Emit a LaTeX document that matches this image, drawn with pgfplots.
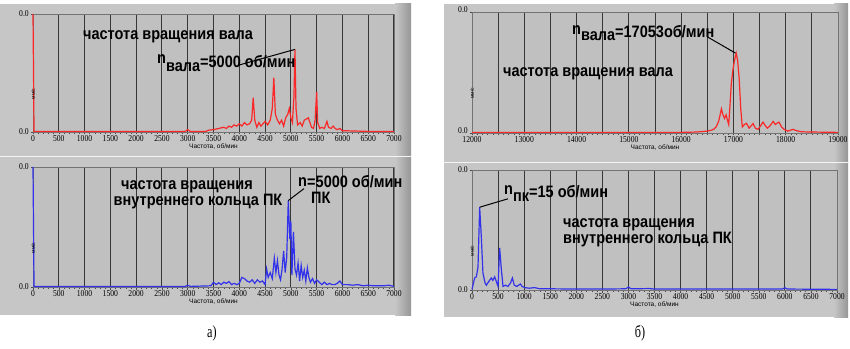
\documentclass[border=0pt]{standalone}
\usepackage{pgfplots}
\pgfplotsset{compat=1.18}
\usepackage{fontspec}
\setmainfont{Liberation Sans}
\newfontfamily\annot[FakeStretch=0.88]{Liberation Sans}
\newfontfamily\tickf[FakeStretch=0.85]{Liberation Serif}
\newfontfamily\capf[FakeStretch=0.72]{Liberation Serif}
\definecolor{panel}{RGB}{198,198,198}
\definecolor{paneldark}{RGB}{150,150,150}
\definecolor{plotbg}{RGB}{192,192,192}
\definecolor{gridc}{RGB}{55,55,55}
\definecolor{lvred}{RGB}{250,40,40}
\definecolor{lvblue}{RGB}{50,50,235}
\pgfplotsset{lv/.style={
  scale only axis, anchor=south west, clip=false,
  axis background/.style={fill=plotbg},
  ymin=0, ymax=1, ytick={0,1}, yticklabels={0.0,0.0},
  scaled x ticks=false, scaled y ticks=false,
  xmajorgrids, major grid style={gridc, line width=1pt},
  axis line style={black!55, line width=0.6pt},
  tick align=outside, major tick length=2.5pt, minor tick length=1.6pt,
  tick style={black!70, line width=0.5pt},
  minor x tick num=4, tick pos=left,
  ticklabel style={font=\tickf\fontsize{9}{9}\selectfont},
  xticklabel style={inner sep=1pt},
  yticklabel style={inner sep=1.5pt},
  xlabel={Частота, об/мин},
  xlabel style={font=\fontsize{6.5}{6.5}\selectfont, at={(axis description cs:0.5,0)}, anchor=center, yshift=-15pt},
  ylabel={мм/с},
  ylabel style={font=\fontsize{5}{5}\selectfont, at={(axis description cs:0,0.5)}, anchor=center, xshift=-21pt},
}}
\begin{document}
\begin{tikzpicture}
\path[use as bounding box] (0pt,0pt) rectangle (850pt,348pt);
% panels
\fill[panel] (0pt,33pt) rectangle (411pt,344pt);
\shade[left color=panel, right color=paneldark] (395pt,33pt) rectangle (411pt,344pt);
\draw[white!80!panel, line width=1pt] (0pt,191pt) -- (411pt,191pt);
\fill[panel] (444pt,31pt) rectangle (848pt,344pt);
\shade[left color=panel, right color=paneldark] (834pt,31pt) rectangle (848pt,344pt);
\draw[white!80!panel, line width=1pt] (444pt,185pt) -- (848pt,185pt);

% top-left
\begin{axis}[lv, at={(33pt,216pt)}, width=361pt, height=118pt,
  xmin=0, xmax=7000, xtick={0,500,...,7000},
  xticklabels={0,500,1000,1500,2000,2500,3000,3500,4000,4500,5000,5500,6000,6500,7000}]
\addplot[lvred, line width=1.2pt] coordinates {
(0,1.0)(20,0.005)(2950,0.005)(3000,0.02)(3050,0.005)(3350,0.005)(3400,0.015)(3500,0.02)(3600,0.03)(3700,0.04)(3750,0.03)(3800,0.05)(3850,0.04)(3900,0.06)(3950,0.05)(4000,0.07)(4050,0.05)(4100,0.08)(4150,0.06)(4200,0.07)(4240,0.1)(4270,0.29)(4300,0.1)(4340,0.04)(4380,0.08)(4420,0.05)(4460,0.07)(4500,0.09)(4550,0.06)(4600,0.1)(4640,0.2)(4670,0.46)(4700,0.15)(4740,0.1)(4780,0.07)(4820,0.1)(4860,0.05)(4900,0.12)(4940,0.15)(4970,0.2)(5000,0.12)(5030,0.08)(5060,0.3)(5080,0.70)(5100,0.2)(5130,0.06)(5180,0.08)(5220,0.05)(5260,0.1)(5300,0.11)(5340,0.12)(5370,0.08)(5400,0.04)(5440,0.03)(5470,0.1)(5500,0.34)(5520,0.08)(5560,0.03)(5600,0.04)(5650,0.03)(5700,0.09)(5730,0.04)(5780,0.03)(5820,0.05)(5860,0.03)(5900,0.02)(5950,0.03)(6000,0.01)(6100,0.01)(6500,0.005)(7000,0.005)};
\draw[black, line width=1pt] (axis cs:5080,0.70) -- (axis cs:3975,0.565);
\end{axis}

% bottom-left
\begin{axis}[lv, at={(33pt,61pt)}, width=361pt, height=120pt,
  xmin=0, xmax=7000, xtick={0,500,...,7000},
  xticklabels={0,500,1000,1500,2000,2500,3000,3500,4000,4500,5000,5500,6000,6500,7000}]
\addplot[lvblue, line width=1.2pt] coordinates {
(0,1.0)(20,0.005)(2950,0.005)(3000,0.015)(3050,0.005)(3450,0.01)(3500,0.04)(3550,0.02)(3600,0.035)(3650,0.02)(3700,0.04)(3750,0.03)(3800,0.045)(3850,0.02)(3900,0.03)(3950,0.02)(4000,0.03)(4050,0.08)(4100,0.07)(4150,0.05)(4200,0.04)(4250,0.06)(4300,0.03)(4350,0.06)(4400,0.04)(4450,0.05)(4500,0.02)(4530,0.15)(4560,0.08)(4600,0.12)(4640,0.07)(4680,0.24)(4710,0.12)(4740,0.22)(4770,0.1)(4800,0.06)(4830,0.15)(4860,0.3)(4890,0.12)(4920,0.25)(4950,0.72)(4980,0.4)(5000,0.55)(5020,0.1)(5050,0.46)(5080,0.15)(5110,0.1)(5140,0.2)(5170,0.05)(5200,0.18)(5230,0.08)(5260,0.14)(5290,0.05)(5320,0.16)(5350,0.08)(5380,0.04)(5420,0.07)(5460,0.03)(5500,0.06)(5550,0.04)(5600,0.02)(5650,0.04)(5700,0.02)(5750,0.03)(5800,0.02)(5850,0.02)(5900,0.03)(5950,0.05)(6000,0.02)(6100,0.02)(6200,0.015)(6300,0.02)(6400,0.01)(6500,0.015)(6600,0.01)(6800,0.01)(6900,0.015)(7000,0.005)};
\draw[black, line width=1pt] (axis cs:4950,0.72) -- (axis cs:5255,0.82);
\end{axis}

% top-right
\begin{axis}[lv, at={(472pt,215pt)}, width=366pt, height=121pt,
  xmin=12000, xmax=19000, xtick={12000,12500,...,19000},
  yticklabel style={yshift=2.5pt},
  xticklabels={12000,,13000,,14000,,15000,,16000,,17000,,18000,,19000}]
\addplot[lvred, line width=1.2pt] coordinates {
(12000,0.005)(16000,0.005)(16300,0.008)(16400,0.012)(16480,0.015)(16550,0.02)(16620,0.03)(16670,0.05)(16720,0.1)(16770,0.2)(16800,0.15)(16830,0.12)(16860,0.15)(16890,0.1)(16910,0.07)(16930,0.2)(16960,0.41)(16990,0.52)(17020,0.6)(17053,0.66)(17080,0.6)(17110,0.45)(17140,0.2)(17170,0.05)(17210,0.07)(17250,0.08)(17300,0.04)(17340,0.06)(17375,0.078)(17420,0.04)(17470,0.03)(17520,0.06)(17565,0.09)(17610,0.06)(17650,0.04)(17700,0.06)(17760,0.096)(17800,0.07)(17830,0.08)(17870,0.09)(17920,0.05)(17970,0.03)(18040,0.015)(18100,0.025)(18140,0.03)(18200,0.02)(18300,0.01)(18500,0.008)(19000,0.005)};
\draw[black, line width=1pt] (axis cs:17040,0.66) -- (axis cs:16500,0.795);
\end{axis}

% bottom-right
\begin{axis}[lv, at={(472pt,58pt)}, width=365pt, height=120pt,
  xmin=0, xmax=7000, xtick={0,500,...,7000},
  xticklabels={0,500,1000,1500,2000,2500,3000,3500,4000,4500,5000,5500,6000,6500,7000}]
\addplot[lvblue, line width=1.2pt] coordinates {
(0,0.005)(50,0.1)(83,0.11)(115,0.19)(147,0.69)(179,0.44)(210,0.14)(250,0.06)(275,0.04)(320,0.07)(370,0.1)(400,0.08)(435,0.11)(467,0.07)(500,0.03)(530,0.35)(563,0.17)(595,0.03)(640,0.04)(690,0.03)(740,0.06)(775,0.1)(810,0.04)(860,0.03)(927,0.05)(960,0.03)(1010,0.02)(1100,0.015)(1200,0.02)(1300,0.01)(1500,0.01)(2000,0.008)(2500,0.008)(2950,0.01)(3000,0.025)(3050,0.01)(3400,0.012)(3500,0.008)(5950,0.008)(6000,0.018)(6050,0.008)(7000,0.005)};
\draw[black, line width=1pt] (axis cs:147,0.69) -- (axis cs:690,0.76);
\end{axis}

% annotations
\begin{scope}[every node/.style={inner sep=0pt, font=\annot\bfseries\fontsize{16.5}{16.5}\selectfont}]
\node at (168pt,311pt) {частота вращения вала};
\node[anchor=west] at (157pt,285pt) {\raisebox{4pt}{n}\raisebox{-4pt}{вала}=5000 об/мин};
\node at (187pt,161pt) {частота вращения};
\node at (198pt,146pt) {внутреннего кольца ПК};
\node[anchor=west] at (298pt,166pt) {n};
\node[anchor=west] at (311pt,150pt) {ПК};
\node[anchor=west] at (307pt,166pt) {=5000 об/мин};
\node[anchor=west] at (572pt,315pt) {\raisebox{3pt}{n}\raisebox{-3pt}{вала}=17053об/мин};
\node at (588pt,274pt) {частота вращения вала};
\node[anchor=west] at (504pt,155pt) {\raisebox{3pt}{n}\raisebox{-4pt}{пк}=15 об/мин};
\node[anchor=west] at (563pt,123pt) {частота вращения};
\node[anchor=west] at (563pt,108pt) {внутреннего кольца ПК};
\end{scope}
\node[font=\capf\fontsize{17}{17}\selectfont] at (212pt,15pt) {а)};
\node[font=\capf\fontsize{17}{17}\selectfont] at (640pt,15pt) {б)};
\end{tikzpicture}
\end{document}
